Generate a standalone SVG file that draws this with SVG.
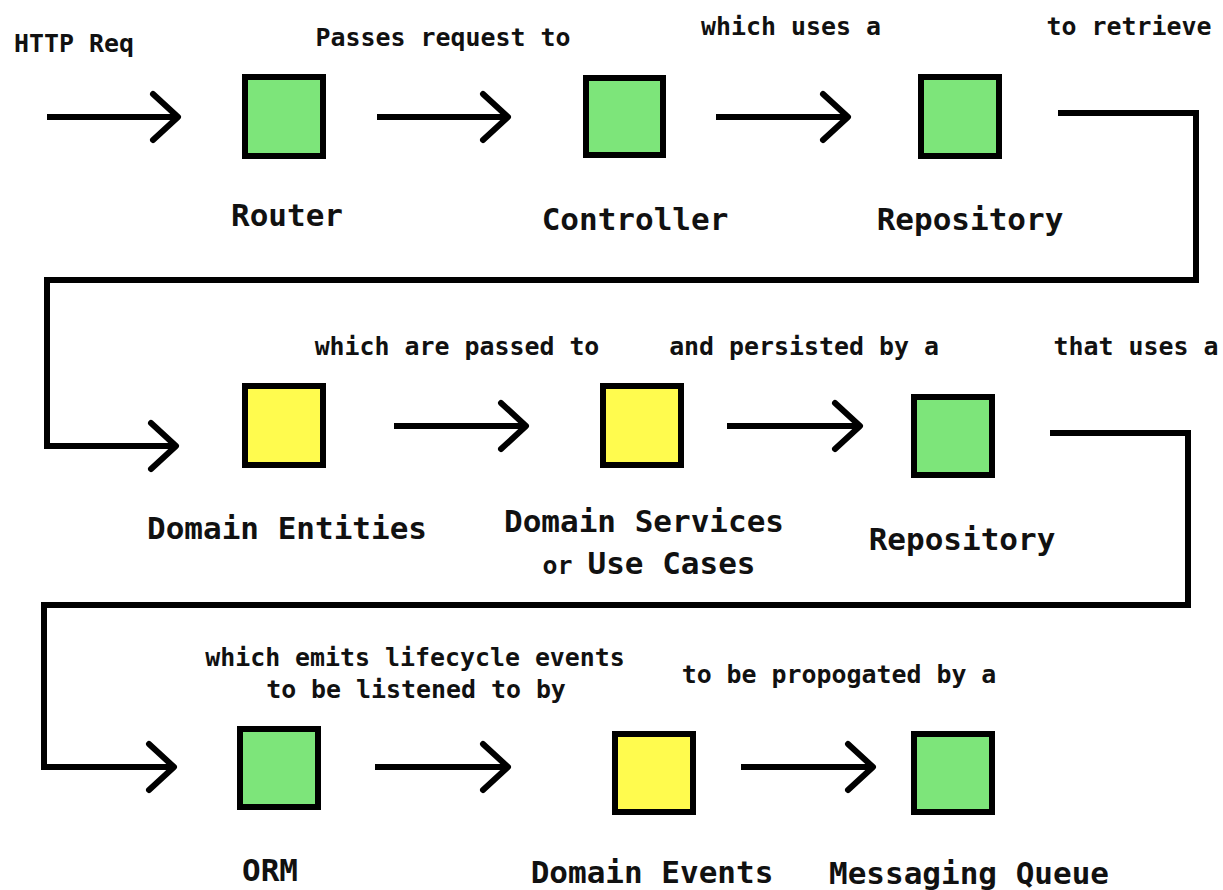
<svg xmlns="http://www.w3.org/2000/svg" width="1223" height="890" viewBox="0 0 1223 890">
<defs>
<style>
.bg{fill:#ffffff}
.box{stroke:#000;stroke-width:6}
.g{fill:#7de57a}
.y{fill:#fffb4e}
.lbl{font-family:"DejaVu Sans Mono","Liberation Mono",monospace;font-weight:bold;font-size:31px;fill:#111;text-anchor:middle}
.cap{font-family:"DejaVu Sans Mono","Liberation Mono",monospace;font-weight:bold;font-size:24.9px;fill:#111;text-anchor:middle}
.sm{font-size:24.9px}
.con{fill:none;stroke:#000;stroke-width:6;stroke-linejoin:miter}
</style>
<marker id="chev" markerUnits="userSpaceOnUse" markerWidth="40" markerHeight="60" viewBox="-32 -30 40 60" refX="0" refY="0" orient="auto">
<path d="M-25,-23 L0,0 L-25,23" fill="none" stroke="#000" stroke-width="6" stroke-linecap="round" stroke-linejoin="round"/>
</marker>
</defs>
<rect class="bg" x="0" y="0" width="1223" height="890"/>
<g id="connectors">
<path class="con" d="M47 117 H178" marker-end="url(#chev)"/>
<path class="con" d="M377 117 H508" marker-end="url(#chev)"/>
<path class="con" d="M716 117 H848" marker-end="url(#chev)"/>
<path class="con" d="M1058 113 H1196 V280 H47 V446 H176" marker-end="url(#chev)"/>
<path class="con" d="M394 426 H526" marker-end="url(#chev)"/>
<path class="con" d="M727 426 H860" marker-end="url(#chev)"/>
<path class="con" d="M1050 433 H1188 V605 H44 V767 H174" marker-end="url(#chev)"/>
<path class="con" d="M375 767 H508" marker-end="url(#chev)"/>
<path class="con" d="M741 767 H873" marker-end="url(#chev)"/>
</g>
<g id="edge-labels">
<text class="cap" x="14" y="52" style="text-anchor:start">HTTP Req</text>
<text class="cap" x="443" y="46">Passes request to</text>
<text class="cap" x="791" y="35">which uses a</text>
<text class="cap" x="1129" y="35">to retrieve</text>
<text class="cap" x="457" y="355">which are passed to</text>
<text class="cap" x="804" y="355">and persisted by a</text>
<text class="cap" x="1136" y="355">that uses a</text>
<text class="cap" x="415" y="666">which emits lifecycle events</text>
<text class="cap" x="416" y="698">to be listened to by</text>
<text class="cap" x="839" y="683">to be propogated by a</text>
</g>
<g id="router">
<rect class="box g" x="245" y="77" width="78" height="79"/>
<text class="lbl" x="287" y="226">Router</text>
</g>
<g id="controller">
<rect class="box g" x="586" y="78" width="77" height="77"/>
<text class="lbl" x="635" y="230">Controller</text>
</g>
<g id="repository1">
<rect class="box g" x="921" y="77" width="78" height="79"/>
<text class="lbl" x="970" y="230">Repository</text>
</g>
<g id="domain-entities">
<rect class="box y" x="245" y="386" width="78" height="79"/>
<text class="lbl" x="287" y="539">Domain Entities</text>
</g>
<g id="domain-services">
<rect class="box y" x="603" y="386" width="78" height="79"/>
<text class="lbl" x="644" y="532">Domain Services</text>
<text class="lbl" x="649" y="574"><tspan class="sm">or </tspan>Use Cases</text>
</g>
<g id="repository2">
<rect class="box g" x="914" y="397" width="78" height="78"/>
<text class="lbl" x="962" y="550">Repository</text>
</g>
<g id="orm">
<rect class="box g" x="240" y="729" width="78" height="78"/>
<text class="lbl" x="270" y="881">ORM</text>
</g>
<g id="domain-events">
<rect class="box y" x="615" y="734" width="78" height="78"/>
<text class="lbl" x="652" y="883">Domain Events</text>
</g>
<g id="messaging-queue">
<rect class="box g" x="914" y="734" width="78" height="78"/>
<text class="lbl" x="969" y="884">Messaging Queue</text>
</g>
</svg>
